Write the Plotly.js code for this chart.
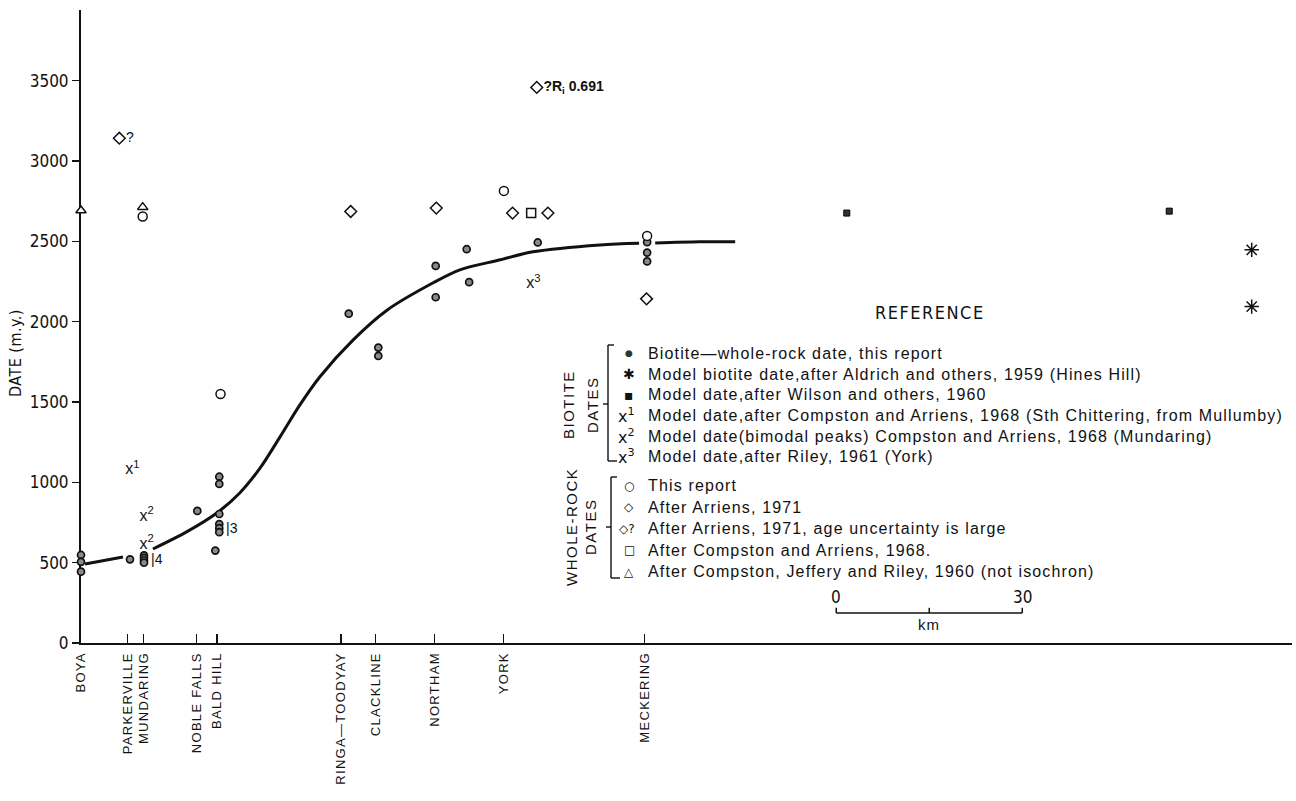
<!DOCTYPE html>
<html><head><meta charset="utf-8">
<script src="https://cdn.plot.ly/plotly-3.0.1.min.js"></script>
<style>
html,body{margin:0;padding:0;background:#fff;}
#chart{width:1296px;height:801px;}
.xtick text{letter-spacing:1.3px;}
.ytick text{font-stretch:condensed;}
</style></head><body><div id="chart"></div>
<script>
// ---------- DATA ----------
const siteNames = ["BOYA","PARKERVILLE","MUNDARING","NOBLE FALLS","BALD HILL","RINGA—TOODYAY","CLACKLINE","NORTHAM","YORK","MECKERING"];
const siteKm = [0, 7.47, 10.11, 18.66, 21.95, 41.92, 47.5, 57.05, 68.18, 90.89];
const yTicks = [0, 500, 1000, 1500, 2000, 2500, 3000, 3500];

// Biotite - whole-rock dates, this report
const biotiteKm = [0,0,0, 7.9, 10.16,10.16,10.16,10.16, 18.76, 22.3,22.3,22.3,22.3,22.3,22.3, 21.66, 43.18, 47.95,47.95, 57.2,57.2, 62.2, 62.6, 73.66, 91.3,91.3,91.3];
const biotiteMy = [548,505,444, 521, 545,530,515,500, 822, 1035,990,803,740,715,690, 575, 2050, 1839,1787, 2347,2152, 2451, 2246, 2493, 2495,2430,2375];

// Whole-rock: this report
const wrReportKm = [9.95, 22.5, 68.2, 91.3];
const wrReportMy = [2655, 1550, 2814, 2534];
// Whole-rock: after Arriens 1971
const arriensKm = [43.5, 57.3, 69.6, 75.3, 91.2];
const arriensMy = [2686, 2707, 2676, 2676, 2142];
// Whole-rock: after Arriens 1971, large uncertainty
const uncertainKm = [6.18, 73.5];
const uncertainMy = [3142, 3458];
const uncertainLabels = ["?", "<b>?R<sub>i</sub> 0.691</b>"];
// Whole-rock: after Compston and Arriens 1968
const compstonKm = [72.6];
const compstonMy = [2676];
// Whole-rock: after Compston, Jeffery and Riley 1960
const cjrKm = [0, 9.95];
const cjrMy = [2692, 2713];
// Biotite: model date after Wilson and others 1960
const wilsonKm = [123.5, 175.5];
const wilsonMy = [2676, 2688];
// Biotite: model date after Aldrich and others 1959
const aldrichKm = [188.8, 188.8];
const aldrichMy = [2447, 2094];
// Biotite model dates x1, x2, x3
const modelKm = [8.3, 10.6, 10.6, 72.95];
const modelMy = [1075, 786, 610, 2233];
const modelLabels = ["x<sup>1</sup>", "x<sup>2</sup>", "x<sup>2</sup>", "x<sup>3</sup>"];
// Clustered point counts
const clusterKm = [10.16, 22.3];
const clusterMy = [520, 716];
const clusterLabels = ["|4", "|3"];

// Trend curve through biotite dates
const curveKm = [0.65, 6.77, null, 11.6, 17.1, 21.9, 25.6, 28.9, 32.1, 35.3, 38.5, 43.9, 49.4, 56.8, 61.1, 67.6, 72.9, 83.7, 90.0, null, 92.6, 99.8, 105.5];
const curveMy = [492, 535, null, 585, 693, 809, 934, 1090, 1283, 1482, 1656, 1887, 2073, 2242, 2323, 2385, 2435, 2478, 2488, null, 2490, 2497, 2497];

// Legend
const biotiteLegendSymbols = ["●", "✱", "▪", "x<sup>1</sup>", "x<sup>2</sup>", "x<sup>3</sup>"];
const biotiteLegendText = [
  "Biotite—whole-rock date, this report",
  "Model biotite date,after Aldrich and others, 1959 (Hines Hill)",
  "Model date,after Wilson and others, 1960",
  "Model date,after Compston and Arriens, 1968 (Sth Chittering, from Mullumby)",
  "Model date(bimodal peaks) Compston and Arriens, 1968 (Mundaring)",
  "Model date,after Riley, 1961 (York)"
];
const wrLegendSymbols = ["○", "◇", "◇?", "□", "△"];
const wrLegendText = [
  "This report",
  "After Arriens, 1971",
  "After Arriens, 1971, age uncertainty is large",
  "After Compston and Arriens, 1968.",
  "After Compston, Jeffery and Riley, 1960 (not isochron)"
];
const scaleLabels = ["0", "30"];
const scaleLenKm = 30;

// ---------- LAYOUT HELPERS ----------
const ML = 81, MT = 10, PW = 1211, PH = 633, BASE = 643;
const px = x => (x - ML) / PW;
const py = y => (BASE - y) / PH;
const INK = '#111';
const COND = 'DejaVu Sans Condensed, DejaVu Sans, sans-serif';
const SANS = 'Liberation Sans, Arial, Helvetica, sans-serif';
const SYM = 'DejaVu Sans, sans-serif';

const openMarker = (symbol, size) => ({symbol, size, color: '#fff', line: {color: INK, width: 1.5}});

const traces = [
  {x: curveKm, y: curveMy, mode: 'lines', line: {color: INK, width: 3, shape: 'spline', smoothing: 0.9}, connectgaps: false},
  {x: biotiteKm, y: biotiteMy, mode: 'markers', marker: {symbol: 'circle', size: 7, color: '#8a8a8a', line: {color: INK, width: 1.7}}},
  {x: wrReportKm, y: wrReportMy, mode: 'markers', marker: openMarker('circle', 9)},
  {x: arriensKm, y: arriensMy, mode: 'markers', marker: openMarker('diamond', 9)},
  {x: uncertainKm, y: uncertainMy, mode: 'markers+text', marker: openMarker('diamond', 9), text: uncertainLabels, textposition: 'middle right', textfont: {family: SANS, size: 14, color: INK}},
  {x: compstonKm, y: compstonMy, mode: 'markers', marker: openMarker('square', 9)},
  {x: cjrKm, y: cjrMy, mode: 'markers', marker: openMarker('triangle-up', 9)},
  {x: wilsonKm, y: wilsonMy, mode: 'markers', marker: {symbol: 'square', size: 6, color: '#333', line: {color: '#000', width: 1}}},
  {x: aldrichKm, y: aldrichMy, mode: 'markers', marker: {symbol: 'asterisk-open', size: 12, color: INK, line: {color: INK, width: 1.5}}},
  {x: modelKm, y: modelMy, mode: 'text', text: modelLabels, textposition: 'middle center', textfont: {family: SANS, size: 16, color: INK}}
].map(t => Object.assign({cliponaxis: false, hoverinfo: 'skip'}, t));

const annotations = [];
const ann = (o) => annotations.push(Object.assign({showarrow: false, xref: 'paper', yref: 'paper', xanchor: 'center', yanchor: 'middle', font: {family: SANS, size: 16, color: INK}}, o));
const spaced = (s, n) => '<span style="letter-spacing:' + n + 'px">' + s + '</span>';
const cond = (s, n) => '<span style="font-stretch:condensed;letter-spacing:' + n + 'px">' + s + '</span>';

// cluster counts
clusterKm.forEach((k, i) => ann({xref: 'x', yref: 'y', x: k, y: clusterMy[i], text: clusterLabels[i], xanchor: 'left', xshift: 5, font: {family: SANS, size: 14, color: INK}}));

// y title
ann({x: px(15), y: py(353), text: cond('DATE (m.y.)', 0.5), textangle: -90, font: {family: COND, size: 16, color: INK}});
// REFERENCE
ann({x: px(930), y: py(312), text: cond('REFERENCE', 1.5), font: {family: COND, size: 18, color: INK}});

// legend entries
biotiteLegendText.forEach((t, i) => {
  const y = 353.3 + 20.7 * i;
  ann({x: px(i >= 3 ? 626 : 629), y: py(y), text: biotiteLegendSymbols[i], font: {family: SYM, size: i === 0 ? 9 : (i >= 3 ? 16 : 14), color: i === 0 ? '#333' : INK}});
  ann({x: px(646), y: py(y), text: spaced(t, 1.15), xanchor: 'left'});
});
wrLegendText.forEach((t, i) => {
  const y = 485.5 + 21.5 * i;
  ann({x: px(i === 2 ? 627 : 629), y: py(y), text: wrLegendSymbols[i], font: {family: SYM, size: 12, color: INK}});
  ann({x: px(646), y: py(y), text: spaced(t, 1.15), xanchor: 'left'});
});
// bracket labels
ann({x: px(568), y: py(405), text: spaced('BIOTITE', 1.5), textangle: -90, font: {family: SANS, size: 15, color: INK}});
ann({x: px(592), y: py(405), text: spaced('DATES', 1.5), textangle: -90, font: {family: SANS, size: 15, color: INK}});
ann({x: px(571), y: py(527), text: spaced('WHOLE-ROCK', 1.5), textangle: -90, font: {family: SANS, size: 15, color: INK}});
ann({x: px(590), y: py(527), text: spaced('DATES', 1.5), textangle: -90, font: {family: SANS, size: 15, color: INK}});

// scale bar (data units, km)
const scaleOrigin = 121.8, scaleY = 187, scaleTick = 32;
ann({xref: 'x', yref: 'y', x: scaleOrigin, y: scaleY, text: cond(scaleLabels[0], 0), yanchor: 'bottom', yshift: 4, font: {family: COND, size: 17, color: INK}});
ann({xref: 'x', yref: 'y', x: scaleOrigin + scaleLenKm, y: scaleY, text: cond(scaleLabels[1], 0), yanchor: 'bottom', yshift: 4, font: {family: COND, size: 17, color: INK}});
ann({xref: 'x', yref: 'y', x: scaleOrigin + scaleLenKm / 2, y: scaleY, text: spaced('km', 1), yanchor: 'top', yshift: -1, font: {family: SANS, size: 15, color: INK}});

const line = (x0, y0, x1, y1) => ({type: 'line', xref: 'paper', yref: 'paper', x0, y0, x1, y1, line: {color: INK, width: 1.4}});
const dline = (x0, y0, x1, y1) => ({type: 'line', xref: 'x', yref: 'y', x0, y0, x1, y1, line: {color: INK, width: 1.5}});
const shapes = [
  // scale bar
  dline(scaleOrigin, scaleY, scaleOrigin + scaleLenKm, scaleY),
  dline(scaleOrigin, scaleY, scaleOrigin, scaleY + scaleTick),
  dline(scaleOrigin + scaleLenKm / 2, scaleY, scaleOrigin + scaleLenKm / 2, scaleY + scaleTick),
  dline(scaleOrigin + scaleLenKm, scaleY, scaleOrigin + scaleLenKm, scaleY + scaleTick),
  // biotite bracket
  line(px(608), py(345), px(608), py(461)),
  line(px(608), py(345), px(614), py(345)),
  line(px(608), py(461), px(617), py(461)),
  line(px(603), py(404), px(608), py(404)),
  // whole-rock bracket
  line(px(611), py(477), px(611), py(578)),
  line(px(611), py(477), px(617), py(477)),
  line(px(611), py(578), px(620), py(578)),
  line(px(606), py(527), px(611), py(527))
];

const layout = {
  width: 1296, height: 801,
  margin: {l: ML, r: 4, t: MT, b: 158, pad: 0},
  paper_bgcolor: '#fff', plot_bgcolor: '#fff',
  showlegend: false,
  xaxis: {
    range: [0, 195.3], showgrid: false, zeroline: false,
    showline: true, linecolor: INK, linewidth: 2,
    ticks: 'inside', ticklen: 9, tickwidth: 1.3, tickcolor: INK,
    tickmode: 'array', tickvals: siteKm, ticktext: siteNames, tickangle: -90,
    tickfont: {family: SANS, size: 13, color: INK},
    ticklabelstandoff: 2,
    layer: 'below traces', fixedrange: true
  },
  yaxis: {
    range: [0, 3940], showgrid: false, zeroline: false,
    showline: true, linecolor: INK, linewidth: 2,
    ticks: 'outside', ticklen: 7, tickwidth: 1.4, tickcolor: INK,
    tickmode: 'array', tickvals: yTicks, ticktext: yTicks.map(String),
    tickfont: {family: COND, size: 17, color: INK},
    layer: 'below traces', fixedrange: true
  },
  annotations, shapes
};

Plotly.newPlot('chart', traces, layout, {staticPlot: true, displayModeBar: false});
</script></body></html>
